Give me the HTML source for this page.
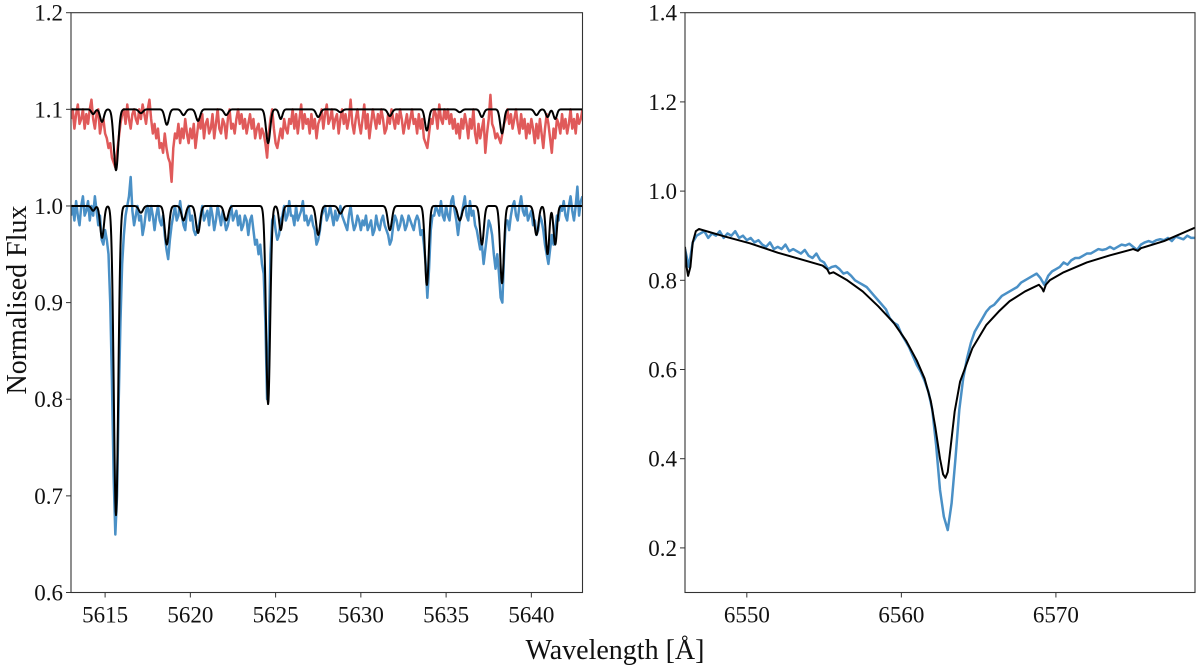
<!DOCTYPE html>
<html><head><meta charset="utf-8"><style>
html,body{margin:0;padding:0;background:#fff;}
svg{display:block;font-family:"Liberation Serif",serif;}
</style></head><body>
<svg id="fig" width="1200" height="667" viewBox="0 0 1200 667" xmlns="http://www.w3.org/2000/svg"></svg>
<script>
// ---------- Left panel data ----------
const leftStart = 5613.0, leftStep = 0.1;
const blueObs = [
0.99,1.00,0.985,1.005,0.99,0.98,1.00,1.01,0.99,0.995,
1.005,0.985,1.00,0.99,1.01,0.995,0.98,0.99,0.965,0.96,
0.975,0.965,0.95,0.90,0.82,0.72,0.66,0.70,0.80,0.88,
0.94,0.97,0.99,1.00,1.01,1.03,0.995,0.98,0.99,1.00,
0.985,0.99,0.97,0.98,0.995,1.00,0.985,1.00,0.99,0.975,
0.99,1.00,0.985,0.98,0.99,0.97,0.955,0.945,0.965,0.98,
0.99,1.00,0.985,0.99,1.005,0.99,0.98,0.975,0.995,1.00,
0.985,0.99,0.975,0.97,0.975,0.98,0.99,1.00,0.985,0.99,
0.995,0.98,1.00,0.99,0.975,0.985,1.00,0.99,0.98,0.995,
0.985,0.975,0.98,0.99,1.00,0.985,0.99,0.995,0.98,0.99,
0.975,0.98,0.99,0.985,0.97,0.985,0.99,0.975,0.96,0.965,
0.95,0.96,0.94,0.93,0.88,0.80,0.86,0.95,0.985,0.99,
0.975,0.965,0.97,0.985,0.99,1.00,0.985,0.99,1.005,0.99,
0.99,0.98,1.00,0.985,0.99,0.995,1.005,0.985,0.99,0.98,
0.985,0.99,0.98,0.975,0.96,0.965,0.975,0.99,0.995,1.00,
0.985,0.99,1.00,0.99,0.98,0.995,0.985,0.99,1.00,0.99,
0.985,0.98,0.975,0.99,1.00,0.985,0.975,0.98,0.99,0.985,
0.975,0.985,0.98,0.99,0.975,0.98,0.985,0.97,0.975,0.99,
0.98,0.975,0.985,0.99,0.98,0.975,0.97,0.96,0.965,0.98,
0.99,0.985,0.975,0.98,0.99,0.985,0.975,0.98,0.99,0.985,
0.98,0.975,0.985,0.99,0.985,0.97,0.975,0.96,0.94,0.905,
0.935,0.975,0.99,0.99,1.00,0.995,0.99,1.005,0.99,0.985,
1.00,0.99,0.985,1.005,1.01,0.995,0.985,0.97,0.985,0.99,
1.00,1.01,0.99,0.985,1.005,0.99,0.995,0.98,0.975,0.965,
0.955,0.96,0.94,0.955,0.97,0.985,0.98,0.97,0.95,0.935,
0.95,0.93,0.905,0.90,0.95,0.985,0.985,0.975,0.99,1.00,
1.005,0.99,0.985,1.00,1.01,0.995,0.99,1.00,0.985,0.99,
0.995,0.98,0.985,0.97,0.975,0.99,0.985,0.975,0.96,0.95,
0.94,0.955,0.97,0.96,0.975,0.99,0.985,1.00,0.995,1.005,
0.99,0.985,1.00,1.01,0.995,0.985,1.00,1.02,0.99,1.005,
1.01];
const redObs = [
1.09,1.10,1.08,1.095,1.105,1.085,1.09,1.10,1.08,1.095,
1.085,1.10,1.11,1.09,1.08,1.095,1.10,1.075,1.085,1.09,
1.075,1.07,1.06,1.065,1.05,1.045,1.04,1.055,1.07,1.085,
1.095,1.10,1.085,1.105,1.09,1.08,1.095,1.10,1.09,1.085,
1.10,1.09,1.105,1.095,1.085,1.10,1.11,1.09,1.075,1.085,
1.07,1.08,1.06,1.065,1.055,1.075,1.06,1.05,1.045,1.025,
1.06,1.075,1.07,1.085,1.065,1.08,1.07,1.09,1.075,1.065,
1.08,1.07,1.085,1.06,1.075,1.09,1.08,1.095,1.07,1.085,
1.09,1.075,1.08,1.095,1.07,1.085,1.10,1.08,1.075,1.09,
1.085,1.07,1.09,1.10,1.08,1.085,1.075,1.09,1.10,1.085,
1.095,1.08,1.09,1.075,1.085,1.095,1.08,1.09,1.07,1.08,
1.085,1.07,1.08,1.075,1.065,1.05,1.075,1.09,1.10,1.08,
1.065,1.06,1.07,1.08,1.07,1.09,1.08,1.075,1.09,1.085,
1.10,1.08,1.095,1.075,1.09,1.105,1.08,1.095,1.085,1.09,
1.075,1.095,1.08,1.09,1.07,1.085,1.09,1.10,1.08,1.095,
1.105,1.085,1.09,1.10,1.08,1.09,1.095,1.075,1.09,1.10,
1.085,1.095,1.08,1.09,1.11,1.085,1.075,1.09,1.10,1.085,
1.075,1.09,1.105,1.08,1.095,1.07,1.085,1.10,1.09,1.08,
1.095,1.085,1.10,1.09,1.075,1.08,1.095,1.085,1.10,1.09,
1.08,1.095,1.085,1.10,1.09,1.075,1.085,1.095,1.08,1.09,
1.10,1.085,1.09,1.075,1.095,1.08,1.09,1.07,1.065,1.06,
1.075,1.09,1.085,1.10,1.095,1.08,1.105,1.09,1.085,1.10,
1.09,1.10,1.085,1.095,1.08,1.09,1.075,1.085,1.07,1.09,
1.08,1.095,1.085,1.07,1.09,1.08,1.10,1.075,1.065,1.085,
1.07,1.08,1.09,1.055,1.075,1.09,1.115,1.085,1.08,1.07,
1.075,1.07,1.065,1.075,1.085,1.09,1.10,1.085,1.095,1.08,
1.09,1.10,1.085,1.075,1.095,1.08,1.09,1.07,1.085,1.075,
1.09,1.08,1.065,1.085,1.07,1.09,1.075,1.06,1.08,1.095,
1.085,1.07,1.055,1.08,1.07,1.09,1.085,1.075,1.095,1.08,
1.09,1.075,1.085,1.10,1.08,1.09,1.075,1.095,1.085,1.09,
1.10];
// model line list
const lineCentres = [5614.3,5614.82,5615.64,5617.1,5618.62,5619.6,5620.45,5622.1,5624.56,5625.3,5627.5,5628.8,5631.7,5633.87,5635.8,5637.1,5638.28,5640.3,5640.95,5641.4];
const lineDepthBlue = [0.005,0.033,0.32,0.007,0.04,0.015,0.028,0.015,0.205,0.025,0.03,0.008,0.025,0.082,0.015,0.04,0.08,0.03,0.05,0.04];
const lineDepthRed = [0.005,0.013,0.063,0.004,0.016,0.006,0.012,0.006,0.035,0.01,0.008,0.003,0.007,0.022,0.003,0.008,0.025,0.006,0.008,0.01];
const lineSigma = [0.1,0.11,0.13,0.12,0.12,0.12,0.12,0.12,0.12,0.1,0.12,0.12,0.12,0.11,0.12,0.11,0.11,0.12,0.1,0.1];
const blueContinuum = 1.0, redContinuum = 1.1;
const leftYTicks = [0.6,0.7,0.8,0.9,1.0,1.1,1.2];
const leftXTicks = [5615,5620,5625,5630,5635,5640];

// ---------- Right panel data ----------
const haStart = 6546.0, haStep = 0.25;
const haObs = [
0.87,0.83,0.885,0.90,
0.905,0.91,0.895,0.905,
0.90,0.91,0.895,0.905,
0.90,0.91,0.895,0.90,
0.89,0.895,0.885,0.89,
0.88,0.875,0.885,0.87,
0.875,0.87,0.88,0.865,
0.87,0.865,0.86,0.868,
0.855,0.85,0.86,0.845,
0.84,0.825,0.83,0.832,
0.825,0.815,0.818,0.81,
0.80,0.795,0.79,0.785,
0.775,0.765,0.755,0.745,
0.735,0.715,0.705,0.70,
0.68,0.665,0.65,0.63,
0.61,0.595,0.575,0.55,
0.51,0.43,0.33,0.27,
0.24,0.30,0.40,0.51,
0.58,0.625,0.66,0.685,
0.70,0.715,0.73,0.74,
0.745,0.755,0.765,0.77,
0.775,0.78,0.785,0.795,
0.80,0.805,0.81,0.815,
0.805,0.79,0.81,0.82,
0.825,0.83,0.84,0.835,
0.845,0.85,0.85,0.855,
0.86,0.86,0.865,0.87,
0.868,0.87,0.875,0.87,
0.875,0.88,0.878,0.882,
0.875,0.868,0.88,0.885,
0.888,0.885,0.89,0.892,
0.89,0.895,0.888,0.898,
0.895,0.892,0.90,0.895,
0.895];
const haModelWl = [6546.0,6546.1,6546.2,6546.35,6546.5,6546.7,6546.9,6548.5,6550.2,6552.0,6553.5,6554.9,6555.2,6555.35,6555.6,6556.5,6557.5,6558.5,6559.5,6560.3,6561.0,6561.5,6561.9,6562.2,6562.5,6562.7,6562.85,6563.0,6563.2,6563.45,6563.8,6564.6,6565.5,6566.3,6567.0,6568.0,6568.9,6569.1,6569.2,6569.35,6569.6,6570.5,6572.0,6573.5,6575.0,6575.3,6575.5,6577.0,6579.0];
const haModelFlux = [0.875,0.83,0.81,0.83,0.885,0.91,0.915,0.899,0.883,0.862,0.847,0.833,0.825,0.815,0.818,0.80,0.775,0.742,0.705,0.665,0.62,0.58,0.53,0.47,0.40,0.365,0.357,0.37,0.43,0.506,0.573,0.648,0.70,0.73,0.753,0.775,0.79,0.782,0.775,0.79,0.80,0.818,0.84,0.856,0.87,0.866,0.872,0.888,0.918];
const rightYTicks = [0.2,0.4,0.6,0.8,1.0,1.2,1.4];
const rightXTicks = [6550,6560,6570];

// ---------- drawing ----------
const NS = "http://www.w3.org/2000/svg";
const svg = document.getElementById('fig');
function mk(tag, attrs, parent){ const e=document.createElementNS(NS,tag); for(const k in attrs) e.setAttribute(k,attrs[k]); (parent||svg).appendChild(e); return e; }

const L = {x0:71, x1:582.5, y0:12.7, y1:592.5, xmin:5613, xmax:5643, ymin:0.6, ymax:1.2};
const R = {x0:685, x1:1195, y0:12.7, y1:592.5, xmin:6546, xmax:6579, ymin:0.1, ymax:1.4};
function sx(P,v){ return P.x0 + (v-P.xmin)/(P.xmax-P.xmin)*(P.x1-P.x0); }
function sy(P,v){ return P.y1 - (v-P.ymin)/(P.ymax-P.ymin)*(P.y1-P.y0); }

function clipFor(P,id){
  const d = mk('defs',{});
  const c = mk('clipPath',{id:id},d);
  mk('rect',{x:P.x0,y:P.y0,width:P.x1-P.x0,height:P.y1-P.y0},c);
}
clipFor(L,'clipL'); clipFor(R,'clipR');

function pathFrom(P, xs, ys){
  let d=''; for(let i=0;i<xs.length;i++){ d += (i?'L':'M') + sx(P,xs[i]).toFixed(2)+','+sy(P,ys[i]).toFixed(2); } return d;
}
function uniformXs(start, step, n){ const a=[]; for(let i=0;i<n;i++) a.push(start+i*step); return a; }
function modelFlux(cont, depths, lam){
  let f=cont; for(let i=0;i<lineCentres.length;i++){ const z=(lam-lineCentres[i])/lineSigma[i]; f -= depths[i]*Math.exp(-0.5*z*z); } return f;
}

function axes(P, yTicks, xTicks, nameP, yDec){
  const g = mk('g',{});
  
  
  const fr = mk('rect',{x:P.x0,y:P.y0,width:P.x1-P.x0,height:P.y1-P.y0,fill:'none',stroke:'#333','stroke-width':1.1},g);
  
  
  yTicks.forEach(v=>{
    const y=sy(P,v);
    mk('line',{x1:P.x0-5,x2:P.x0,y1:y,y2:y,stroke:'#333','stroke-width':1},g);
    const t=mk('text',{x:P.x0-8,y:y+8,'text-anchor':'end','font-size':23,fill:'#111'},g);
    t.textContent=v.toFixed(yDec);
    
    
  });
  xTicks.forEach(v=>{
    const x=sx(P,v);
    mk('line',{x1:x,x2:x,y1:P.y1,y2:P.y1+5,stroke:'#333','stroke-width':1},g);
    const t=mk('text',{x:x,y:P.y1+30,'text-anchor':'middle','font-size':23,fill:'#111'},g);
    t.textContent=String(v);
    
    
  });
}

function series(P, xs, ys, color, w, clip, name){
  const p = mk('path',{d:pathFrom(P,xs,ys),fill:'none',stroke:color,'stroke-width':w,'stroke-linejoin':'round','clip-path':'url(#'+clip+')'});
  
  
}

const BLUE='#4a90c6', RED='#e05a5a';
// left panel
const lx = uniformXs(leftStart, leftStep, blueObs.length);
series(L, lx, redObs, RED, 2.5, 'clipL', 'red-observed-spectrum');
series(L, lx, blueObs, BLUE, 2.5, 'clipL', 'blue-observed-spectrum');
const mx=[], mb=[], mr=[];
for(let lam=L.xmin; lam<=L.xmax+1e-9; lam+=0.02){ mx.push(lam); mb.push(modelFlux(blueContinuum,lineDepthBlue,lam)); mr.push(modelFlux(redContinuum,lineDepthRed,lam)); }
series(L, mx, mr, '#000', 2, 'clipL', 'red-model-spectrum');
series(L, mx, mb, '#000', 2, 'clipL', 'blue-model-spectrum');
axes(L, leftYTicks, leftXTicks, 'left-panel', 1);

// right panel
const hx = uniformXs(haStart, haStep, haObs.length);
series(R, hx, haObs, BLUE, 2.5, 'clipR', 'halpha-observed-spectrum');
series(R, haModelWl, haModelFlux, '#000', 2, 'clipR', 'halpha-model-spectrum');
axes(R, rightYTicks, rightXTicks, 'right-panel', 1);

// axis titles
const yl = mk('text',{x:0,y:0,transform:'translate(26,300) rotate(-90)','text-anchor':'middle','font-size':28,fill:'#111'});
yl.textContent='Normalised Flux';


const xl = mk('text',{x:615,y:659,'text-anchor':'middle','font-size':28,fill:'#111'});
xl.textContent='Wavelength [Å]';


</script>
</body></html>
